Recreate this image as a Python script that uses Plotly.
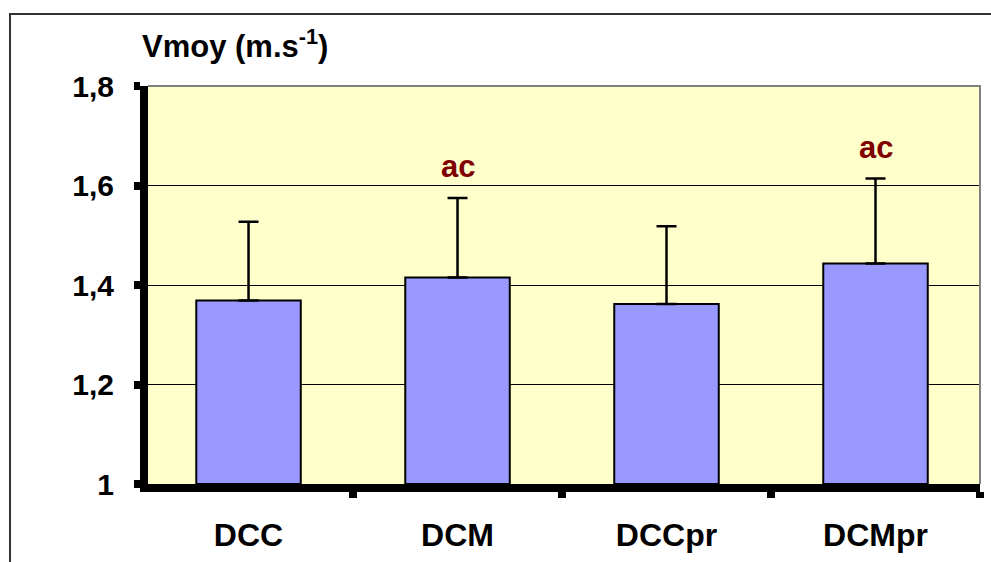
import plotly.graph_objects as go

# ---- data ----
categories = ["DCC", "DCM", "DCCpr", "DCMpr"]
means = [1.369, 1.415, 1.362, 1.443]
sds = [0.158, 0.160, 0.156, 0.171]
signif = ["", "ac", "", "ac"]
y_tickvals = [1.0, 1.2, 1.4, 1.6, 1.8]
y_title = "Vmoy (m.s<sup>-1</sup>)"

FONT = "Liberation Sans"
W, H = 991, 562
L, R, T, B = 148, 11, 86, 78

fig = go.Figure()
fig.add_trace(go.Bar(
    x=categories, y=[m - 1.0 for m in means], base=1.0,
    width=0.5,
    marker=dict(color="#9999FF", line=dict(color="#000000", width=2)),
    error_y=dict(type="data", array=sds, arrayminus=[0] * len(sds), symmetric=False,
                 color="#000000", thickness=2.5, width=10),
    hoverinfo="skip",
))

for c, m, s, lab in zip(categories, means, sds, signif):
    if lab:
        fig.add_annotation(x=c, y=m + s, text=lab, showarrow=False,
                           yanchor="bottom", yshift=12,
                           font=dict(family=FONT, size=31, color="#800000", weight="bold"))

pw = W - L - R
ph = H - T - B
def px_x(p):
    return (p - L) / pw
def px_y(p):
    return (H - B - p) / ph

fig.update_layout(
    width=W, height=H,
    margin=dict(l=L, r=R, t=T, b=B, pad=0, autoexpand=False),
    paper_bgcolor="#FFFFFF", plot_bgcolor="#FFFFCC",
    separators=", ",
    showlegend=False,
    title=dict(text=y_title, x=142 / W, xanchor="left", xref="container",
               y=1 - 46 / H, yanchor="middle", yref="container", automargin=False,
               font=dict(family=FONT, size=31, color="#000000", weight="bold")),
    xaxis=dict(range=[-0.481, 3.5], tickson="boundaries", ticks="outside",
               ticklen=6, tickwidth=8, tickcolor="#000000", automargin=False,
               showline=True, linecolor="#000000", linewidth=8,
               showgrid=False, ticklabelstandoff=16,
               tickfont=dict(family=FONT, size=32, color="#000000", weight="bold")),
    yaxis=dict(range=[1.0, 1.8], tickvals=y_tickvals, ticks="outside",
               ticklen=6, tickwidth=8, tickcolor="#000000", automargin=False,
               showline=True, linecolor="#000000", linewidth=8,
               showgrid=True, gridcolor="#000000", gridwidth=1,
               zeroline=False, ticklabelstandoff=14,
               tickfont=dict(family=FONT, size=30, color="#000000", weight="bold")),
    shapes=[
        dict(type="path", xref="paper", yref="paper", path="M 0,1 L 1,1 L 1,0",
             line=dict(color="#808080", width=2), layer="above"),
        dict(type="rect", xref="paper", yref="paper",
             x0=px_x(10), x1=px_x(1100), y0=px_y(700), y1=px_y(14),
             line=dict(color="#333333", width=2), fillcolor="rgba(0,0,0,0)", layer="above"),
    ],
)

fig.write_html("out.html")
